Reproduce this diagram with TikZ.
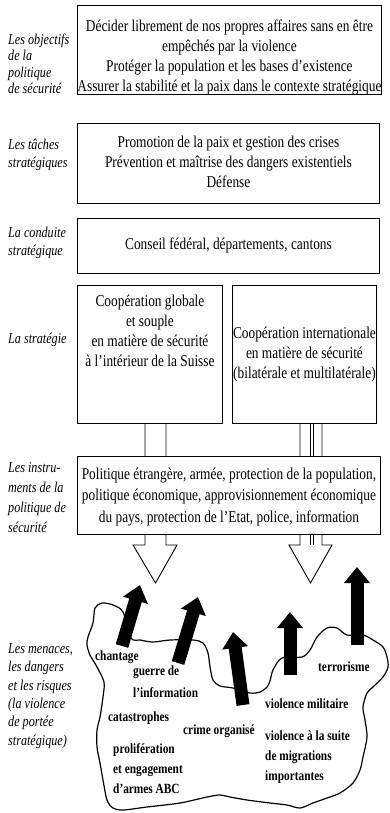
\documentclass[tikz,border=0pt]{standalone}
\usepackage{fontspec}
\setmainfont{Liberation Serif}[FakeStretch=0.81]
\usetikzlibrary{arrows.meta,backgrounds}

\begin{document}
\begin{tikzpicture}[x=1pt,y=-1pt,
  box/.style={draw, line width=0.9pt, fill=white, inner sep=0pt, anchor=north west,
    align=center, font=\fontsize{16.5}{20}\selectfont},
  side/.style={anchor=west, align=left, inner sep=0pt, font=\itshape\fontsize{15}{18}\selectfont},
  threat/.style={anchor=west, align=left, inner sep=0pt, font=\bfseries\fontsize{14}{20}\selectfont},
  hollow/.style={draw, line width=0.9pt, fill=white},
  push/.style={line width=13pt, -{Triangle[width=25pt,length=16pt]}}]
\useasboundingbox (0,0) rectangle (389,813);

% boxes (text height runs down to the last baseline)
\node[box, minimum width=302pt, text height=86pt, text depth=3pt] (objectifs) at (77,5)
  {Décider librement de nos propres affaires sans en être\\ empêchés par la violence\\
   Protéger la population et les bases d'existence\\
   Assurer la stabilité et la paix dans le contexte stratégique};
\node[box, minimum width=302pt, text height=64pt, text depth=16pt] (taches) at (77,123)
  {Promotion de la paix et gestion des crises\\
   Prévention et maîtrise des dangers existentiels\\ Défense};
\node[box, minimum width=302pt, text height=31pt, text depth=24pt] (conduite) at (77,218)
  {Conseil fédéral, départements, cantons};
\node[box, minimum width=145pt, text height=81pt, text depth=57pt] (coopsuisse) at (77,285)
  {Coopération globale\\ et souple\\ en matière de sécurité\\ à l'intérieur de la Suisse};
\node[box, minimum width=144pt, text height=93pt, text depth=45pt] (coopintl) at (232,285)
  {Coopération internationale\\ en matière de sécurité\\ (bilatérale et multilatérale)};
\node[box, minimum width=303pt, text height=66pt, text depth=12pt,
  font=\fontsize{16.5}{21.5}\selectfont] (instruments) at (77,456)
  {Politique étrangère, armée, protection de la population,\\
   politique économique, approvisionnement économique\\
   du pays, protection de l'Etat, police, information};

% labels on the left
\node[side, font=\itshape\fontsize{15}{16.5}\selectfont] (lobjectifs) at (8,64)
  {Les objectifs\\ de la\\ politique\\ de sécurité};
\node[side] (ltaches) at (8,155) {Les tâches\\ stratégiques};
\node[side] (lconduite) at (8,243) {La conduite\\ stratégique};
\node[side] (lstrategie) at (8,340) {La stratégie};
\node[side, font=\itshape\fontsize{15}{20}\selectfont] (linstruments) at (8,498)
  {Les instru-\\ ments de la\\ politique de\\ sécurité};
\node[side, font=\itshape\fontsize{15}{18.4}\selectfont] (lmenaces) at (8,696)
  {Les menaces,\\ les dangers\\ et les risques\\ (la violence\\ de portée\\ stratégique)};

% hollow arrows behind the boxes
\coordinate (tipl) at (155.5,583);
\coordinate (tipr) at (310.5,583);
\begin{scope}[on background layer]
\draw[hollow] (coopsuisse.south -| 145,0) -- (145,545) -- (133,545) -- (tipl)
  -- (177,545) -- (166,545) -- (coopsuisse.south -| 166,0);
\draw[hollow] (coopintl.south -| 300,0) -- (300,545) -- (289,545) -- (tipr)
  -- (332,545) -- (322,545) -- (coopintl.south -| 322,0);
\draw[line width=0.9pt] (coopintl.south -| 310,0) -- (310,545);
\draw[line width=0.9pt] (coopintl.south -| 313,0) -- (313,545);
\end{scope}

% the threats
\draw[line width=1.2pt] plot[smooth cycle] coordinates {
  (95,608) (102,603) (113,605) (123,612) (131,638) (140,640) (153,642) (170,640)
  (193,640) (203,643) (208,653) (210,667) (213,680) (220,686) (233,688)
  (250,693) (260,692) (267,687) (270,681) (273,670) (282,658)
  (302,657) (310,650) (317,637) (327,628) (337,628) (347,635)
  (363,635) (373,640) (383,647) (387,657) (388,667) (383,677) (373,687)
  (367,693) (363,707) (365,720) (367,737) (363,757) (360,770) (353,783)
  (340,793) (327,798) (313,803) (300,808) (287,805) (270,803) (247,800)
  (230,797) (220,795) (207,797) (180,803) (147,807) (123,810) (113,808)
  (107,800) (103,780) (100,763) (97,747) (97,730) (100,717) (103,697)
  (104,682) (97,667) (90,655) (87,645) (88,637) (93,623)};

\draw[push] (122,646) -- (140,585);
\draw[push] (178,663) -- (198,597);
\draw[push] (243,705) -- (233,632);
\draw[push] (290,675) -- (290,612);
\draw[push] (357,645) -- (357,567);

\node[threat] (chantage) at (95,657) {chantage};
\node[threat] (guerre) at (133,682) {guerre de\\[2pt] l'information};
\node[threat] (catastrophes) at (108,718) {catastrophes};
\node[threat] (crime) at (183,731) {crime organisé};
\node[threat] (abc) at (113,769) {prolifération\\ et engagement\\ d'armes ABC};
\node[threat] (militaire) at (265,704) {violence militaire};
\node[threat] (migrations) at (265,757) {violence à la suite\\ de migrations\\ importantes};
\node[threat] (terrorisme) at (318,667) {terrorisme};
\end{tikzpicture}
\end{document}
